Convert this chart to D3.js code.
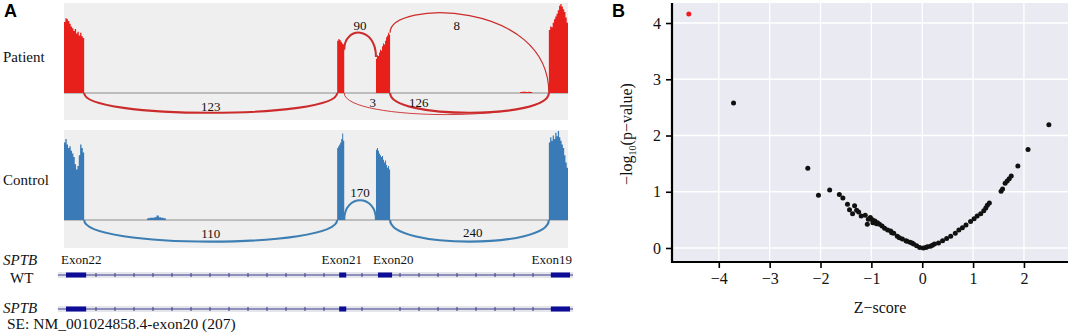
<!DOCTYPE html>
<html>
<head>
<meta charset="utf-8">
<script src="https://cdn.jsdelivr.net/npm/d3@7"></script>
<style>
  body { margin: 0; background: #fff; }
  svg { display: block; }
</style>
</head>
<body>
<div id="chart"></div>
<script>
// ---------- Panel A data (sashimi plot) ----------
const exonNames = ['Exon22', 'Exon21', 'Exon20', 'Exon19'];
const exonStart = [0, 542, 619, 962];
const exonEnd = [40, 556, 647, 1000];

// read coverage per exon, in % of track height
const patientCoverage = [
    [79, 83, 82, 80, 77, 74, 72, 69, 71, 66, 68, 64, 67, 63, 61],
    [58, 60, 59, 57, 55, 54],
    [38, 42, 41, 45, 48, 47, 52, 55, 54, 58, 62, 64, 67, 65],
    [70, 74, 73, 78, 82, 85, 88, 92, 97, 99, 96, 93, 90, 84, 78]
];
const controlCoverage = [
    [86, 90, 84, 80, 82, 77, 74, 70, 62, 56, 60, 72, 84, 80, 75],
    [80, 82, 84, 86, 90, 96, 88],
    [78, 80, 77, 74, 72, 70, 71, 67, 64, 66, 61, 58, 60, 56],
    [86, 92, 88, 94, 90, 97, 93, 99, 92, 88, 84, 80, 72, 64, 58]
];
const patientStray = {start: 905, end: 929, values: [1, 1.5, 1.5, 1, 1.5, 1]};
const controlStray = {start: 165, end: 202, values: [2, 2.5, 2.5, 3, 5, 3, 2.5, 2]};

// junctions: exon index from/to, read count, arc side and extent (same % units)
const patientJunctions = [
    {from: 0, to: 1, count: 123, side: 'below', depth: 22},
    {from: 1, to: 2, count: 90, side: 'above', y0: 48, y1: 40, peak: 67},
    {from: 2, to: 3, count: 8, side: 'above', y0: 67, y1: 0, peak: 86},
    {from: 1, to: 3, count: 3, side: 'below', depth: 24},
    {from: 2, to: 3, count: 126, side: 'below', depth: 22}
];
const controlJunctions = [
    {from: 0, to: 1, count: 110, side: 'below', depth: 24},
    {from: 1, to: 2, count: 170, side: 'above', y0: 0, y1: 0, peak: 22},
    {from: 2, to: 3, count: 240, side: 'below', depth: 24}
];
const skipTranscriptExons = [0, 1, 3];   // exon20 skipped

// ---------- Panel B data (volcano) ----------
const zScore = [
    -4.59, -3.71, -2.25, -2.04, -1.82, -1.63, -1.56, -1.47, -1.43, -1.37,
    -1.33, -1.29, -1.25, -1.20, -1.12, -1.08, -1.06, -1.02, -0.98, -0.97,
    -0.93, -0.90, -0.88, -0.84, -0.79, -0.74, -0.68, -0.62, -0.60, -0.56,
    -0.49, -0.45, -0.39, -0.32, -0.30, -0.24, -0.20, -0.17, -0.11, -0.05,
    0.02, 0.07, 0.10, 0.16, 0.20, 0.24, 0.32, 0.40, 0.48, 0.56,
    0.65, 0.72, 0.79, 0.86, 0.95, 1.02, 1.08, 1.15, 1.21, 1.25,
    1.28, 1.32, 1.55, 1.58, 1.63, 1.67, 1.71, 1.75, 1.88, 2.08, 2.49
];
const negLog10P = [
    4.16, 2.58, 1.42, 0.94, 1.03, 0.95, 0.89, 0.78, 0.68, 0.61,
    0.75, 0.67, 0.64, 0.57, 0.58, 0.42, 0.51, 0.54, 0.50, 0.45,
    0.48, 0.43, 0.45, 0.42, 0.39, 0.35, 0.32, 0.30, 0.27, 0.26,
    0.21, 0.18, 0.16, 0.13, 0.12, 0.10, 0.09, 0.07, 0.04, 0.01,
    0.00, 0.01, 0.02, 0.03, 0.05, 0.07, 0.09, 0.13, 0.17, 0.21,
    0.26, 0.32, 0.36, 0.41, 0.47, 0.52, 0.57, 0.61, 0.66, 0.71,
    0.76, 0.80, 1.01, 1.05, 1.15, 1.19, 1.23, 1.28, 1.46, 1.75, 2.19
];
const highlightIndex = 0;
const xTicks = [-4, -3, -2, -1, 0, 1, 2];
const yTicks = [0, 1, 2, 3, 4];

const serif = '"Liberation Serif", "Times New Roman", serif';
const sans = '"Liberation Sans", Arial, sans-serif';

const svg = d3.select('#chart').append('svg')
    .attr('width', 1072)
    .attr('height', 336)
    .style('background', '#fff');

// ---------- Panel A ----------
const gx = d3.scaleLinear().domain([0, 1000]).range([64, 568]);

svg.append('text')
    .attr('x', 4).attr('y', 17)
    .style('font-family', sans).style('font-weight', 'bold').style('font-size', '18px')
    .text('A');

function exonProfile(start, end, values) {
    const w = (end - start) / values.length;
    const pts = values.map((v, i) => ({x: start + i * w, v: v}));
    pts.push({x: end, v: values[values.length - 1]});
    return pts;
}

// point on a cubic bezier at a given x fraction (for count labels)
function bezierAt(p0, p1, p2, p3, frac) {
    const tx = p0[0] + (p3[0] - p0[0]) * frac;
    let lo = 0, hi = 1;
    const pt = t => {
        const m = 1 - t;
        return [
            m*m*m*p0[0] + 3*m*m*t*p1[0] + 3*m*t*t*p2[0] + t*t*t*p3[0],
            m*m*m*p0[1] + 3*m*m*t*p1[1] + 3*m*t*t*p2[1] + t*t*t*p3[1]
        ];
    };
    for (let k = 0; k < 40; k++) {
        const mid = (lo + hi) / 2;
        if (pt(mid)[0] < tx) lo = mid; else hi = mid;
    }
    return pt((lo + hi) / 2);
}

const labelPlace = {
    patient: {123: {f: 0.5, d: -6}, 90: {f: 0.5, d: -7}, 8: {f: 0.42, d: 12}, 3: {f: 0.14, d: -6}, 126: {f: 0.18, d: -6}},
    control: {110: {f: 0.5, d: -8}, 170: {f: 0.5, d: -8}, 240: {f: 0.52, d: -9}}
};

const widthScale = d3.scaleLog().domain([3, 126]).range([0.9, 2.1]).clamp(true);

function drawSashimi(cfg) {
    const g = svg.append('g');
    const y = d3.scaleLinear().domain([0, 100]).range([cfg.base, cfg.base - 90]);

    g.append('rect')
        .attr('x', gx(0)).attr('y', cfg.top)
        .attr('width', gx(1000) - gx(0)).attr('height', cfg.bottom - cfg.top)
        .attr('fill', '#efefef');

    g.append('line')
        .attr('x1', gx(0)).attr('x2', gx(1000))
        .attr('y1', cfg.base).attr('y2', cfg.base)
        .attr('stroke', '#8a8a8a').attr('stroke-width', 1);

    const area = d3.area()
        .curve(d3.curveStepAfter)
        .x(d => gx(d.x))
        .y0(y(0))
        .y1(d => y(d.v));

    cfg.coverage.forEach((vals, i) => {
        g.append('path')
            .attr('d', area(exonProfile(exonStart[i], exonEnd[i], vals)))
            .attr('fill', cfg.fill);
    });
    g.append('path')
        .attr('d', area(exonProfile(cfg.stray.start, cfg.stray.end, cfg.stray.values)))
        .attr('fill', cfg.fill);

    cfg.junctions.forEach(j => {
        const x1 = gx(exonEnd[j.from]);
        const x2 = gx(exonStart[j.to]);
        let p0, p1, p2, p3;
        if (j.side === 'below') {
            const yc = y(-j.depth / 0.75);
            p0 = [x1, y(0)]; p1 = [x1, yc]; p2 = [x2, yc]; p3 = [x2, y(0)];
        } else {
            const py0 = y(j.y0), py1 = y(j.y1), pk = y(j.peak);
            const yc = (8 * pk - py0 - py1) / 6;
            p0 = [x1, py0]; p1 = [x1, yc]; p2 = [x2, yc]; p3 = [x2, py1];
        }
        const path = d3.path();
        path.moveTo(p0[0], p0[1]);
        path.bezierCurveTo(p1[0], p1[1], p2[0], p2[1], p3[0], p3[1]);
        g.append('path')
            .attr('d', path.toString())
            .attr('fill', 'none')
            .attr('stroke', cfg.arc)
            .attr('stroke-width', widthScale(j.count));

        const lp = cfg.labels[j.count];
        const at = bezierAt(p0, p1, p2, p3, lp.f);
        g.append('text')
            .attr('x', at[0]).attr('y', at[1] + lp.d)
            .attr('dy', '0.35em')
            .attr('text-anchor', 'middle')
            .style('font-family', serif).style('font-size', '13px')
            .attr('fill', '#111')
            .text(j.count);
    });

    svg.append('text')
        .attr('x', 3).attr('y', cfg.labelY)
        .style('font-family', serif).style('font-size', '15px')
        .attr('fill', '#111')
        .text(cfg.name);
}

drawSashimi({
    name: 'Patient', top: 3, bottom: 120, base: 93, labelY: 62,
    coverage: patientCoverage, stray: patientStray, junctions: patientJunctions,
    fill: '#e8201c', arc: '#cc2b2b', labels: labelPlace.patient
});
drawSashimi({
    name: 'Control', top: 130, bottom: 248, base: 220, labelY: 185,
    coverage: controlCoverage, stray: controlStray, junctions: controlJunctions,
    fill: '#3a7ab6', arc: '#3d7eb3', labels: labelPlace.control
});

// gene model tracks
function drawTrack(yPos, exons) {
    const g = svg.append('g');
    g.append('rect')
        .attr('x', gx(-12)).attr('y', yPos - 3)
        .attr('width', gx(1010) - gx(-12)).attr('height', 6)
        .attr('fill', '#e5e5ec');
    g.append('line')
        .attr('x1', gx(-12)).attr('x2', gx(1010))
        .attr('y1', yPos).attr('y2', yPos)
        .attr('stroke', '#3b3b8c').attr('stroke-width', 1);

    const ticks = d3.range(63.5, 990, 37.7).filter(t =>
        !exonStart.some((s, i) => t > s - 8 && t < exonEnd[i] + 8));
    g.selectAll('.tick').data(ticks).enter().append('line')
        .attr('x1', d => gx(d)).attr('x2', d => gx(d))
        .attr('y1', yPos - 2).attr('y2', yPos + 2)
        .attr('stroke', '#3b3b8c').attr('stroke-width', 1);

    g.selectAll('.exon').data(exons).enter().append('rect')
        .attr('x', i => gx(exonStart[i]) + 2)
        .attr('y', yPos - 2.5)
        .attr('width', i => gx(exonEnd[i]) - gx(exonStart[i]))
        .attr('height', 5)
        .attr('fill', '#0c0c96');
}
drawTrack(275, [0, 1, 2, 3]);
drawTrack(309, skipTranscriptExons);

const exonAnchor = ['start', 'middle', 'start', 'end'];
const exonLabelX = i => exonAnchor[i] === 'start' ? gx(exonStart[i]) - 3
    : exonAnchor[i] === 'end' ? gx(exonEnd[i]) + 4
    : (gx(exonStart[i]) + gx(exonEnd[i])) / 2 + 1;
svg.selectAll('.exon-label').data(exonNames).enter().append('text')
    .attr('x', (d, i) => exonLabelX(i))
    .attr('y', 264)
    .attr('text-anchor', (d, i) => exonAnchor[i])
    .style('font-family', serif).style('font-size', '13px')
    .attr('fill', '#111')
    .text(d => d);

svg.append('text').attr('x', 3).attr('y', 265)
    .style('font-family', serif).style('font-size', '15px').style('font-style', 'italic')
    .attr('fill', '#111').text('SPTB');
svg.append('text').attr('x', 10).attr('y', 283)
    .style('font-family', serif).style('font-size', '15px')
    .attr('fill', '#111').text('WT');
svg.append('text').attr('x', 3).attr('y', 313)
    .style('font-family', serif).style('font-size', '15px').style('font-style', 'italic')
    .attr('fill', '#111').text('SPTB');
svg.append('text').attr('x', 7).attr('y', 329)
    .style('font-family', serif).style('font-size', '15.5px')
    .attr('fill', '#111').text('SE: NM_001024858.4-exon20 (207)');

// ---------- Panel B ----------
const bx = d3.scaleLinear().domain([-4.92, 2.866]).range([672, 1068]);
const by = d3.scaleLinear().domain([-0.249, 4.356]).range([262, 3]);

svg.append('text')
    .attr('x', 612).attr('y', 17)
    .style('font-family', sans).style('font-weight', 'bold').style('font-size', '18px')
    .text('B');

const plot = svg.append('g');
plot.append('rect')
    .attr('x', 672).attr('y', 3)
    .attr('width', 1068 - 672).attr('height', 262 - 3)
    .attr('fill', '#eaeaf2');

plot.selectAll('.vgrid').data(xTicks).enter().append('line')
    .attr('x1', d => bx(d)).attr('x2', d => bx(d))
    .attr('y1', 3).attr('y2', 262)
    .attr('stroke', '#fff').attr('stroke-width', 1.3);
plot.selectAll('.hgrid').data(yTicks).enter().append('line')
    .attr('x1', 672).attr('x2', 1068)
    .attr('y1', d => by(d)).attr('y2', d => by(d))
    .attr('stroke', '#fff').attr('stroke-width', 1.3);

const points = zScore.map((z, i) => ({z: z, p: negLog10P[i], hi: i === highlightIndex}));
plot.selectAll('.point').data(points).enter().append('circle')
    .attr('cx', d => bx(d.z))
    .attr('cy', d => by(d.p))
    .attr('r', 2.5)
    .attr('fill', d => d.hi ? '#ee1c1c' : '#111');

const xAxis = svg.append('g')
    .attr('transform', 'translate(0,262)')
    .call(d3.axisBottom(bx).tickValues(xTicks).tickFormat(d3.format('d'))
        .tickSize(6).tickSizeOuter(0).tickPadding(5));
const yAxis = svg.append('g')
    .attr('transform', 'translate(672,0)')
    .call(d3.axisLeft(by).tickValues(yTicks).tickFormat(d3.format('d'))
        .tickSize(6).tickSizeOuter(0).tickPadding(5));

[xAxis, yAxis].forEach(a => {
    a.select('.domain').attr('stroke', '#000').attr('stroke-width', 2.2);
    a.selectAll('.tick line').attr('stroke', '#000').attr('stroke-width', 1.6);
    a.selectAll('.tick text')
        .style('font-family', serif).style('font-size', '16px').attr('fill', '#111');
});
// extend the spines so the corner meets
xAxis.select('.domain').attr('d', 'M671,0H1068');
yAxis.select('.domain').attr('d', 'M0,263V3');

svg.append('text')
    .attr('x', 880).attr('y', 313)
    .attr('text-anchor', 'middle')
    .style('font-family', serif).style('font-size', '16px')
    .attr('fill', '#111')
    .text('Z\u2212score');

const ylab = svg.append('text')
    .attr('transform', 'translate(632,134) rotate(-90)')
    .attr('text-anchor', 'middle')
    .style('font-family', serif).style('font-size', '16px')
    .attr('fill', '#111');
ylab.append('tspan').text('\u2212log');
ylab.append('tspan').attr('dy', 4).style('font-size', '10px').text('10');
ylab.append('tspan').attr('dy', -4).text('(p\u2212value)');
</script>
</body>
</html>
